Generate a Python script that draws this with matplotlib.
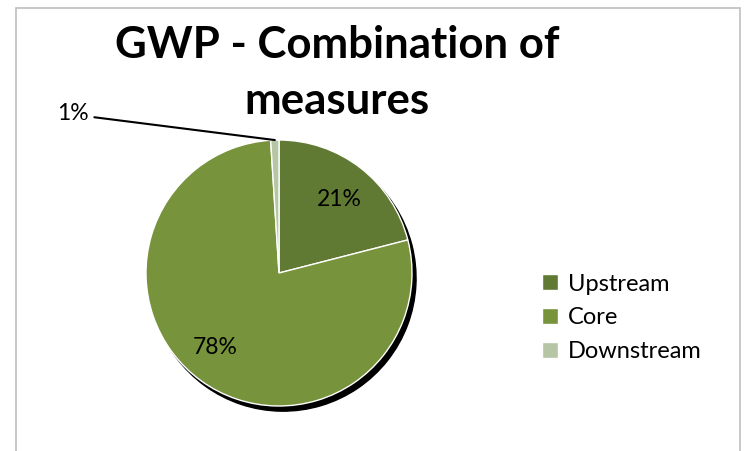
import numpy as np
import matplotlib
matplotlib.use("Agg")
import matplotlib.pyplot as plt
from matplotlib.patches import Rectangle

# 構成比データ
categories = ["Upstream", "Core", "Downstream"]
shares = [21, 78, 1]
share_labels = ["21%", "78%", "1%"]
colors = ["#617A33", "#77933C", "#B6C5A3"]

plt.rcParams["font.family"] = ["Lato", "DejaVu Sans"]

fig = plt.figure(figsize=(7.47, 4.51), dpi=100)
W, H = 747, 451

# チャート外枠
fig.patches.append(Rectangle((16 / W, -0.05), (740 - 16) / W, 1.05 - 8 / H,
                             transform=fig.transFigure, fill=False,
                             edgecolor="#BFBFBF", linewidth=1.2))

# 円グラフ（中心 279,273 / 半径 133 px）
cx, cy, r = 279, 273, 133
ax = fig.add_axes([(cx - r) / W, (H - cy - r) / H, 2 * r / W, 2 * r / H])
wedges, _ = ax.pie(shares, colors=colors, startangle=90, counterclock=False,
                   wedgeprops=dict(edgecolor="white", linewidth=1.0),
                   shadow=dict(ox=0.022, oy=-0.028, shade=1.0, alpha=1.0))
ax.set_xlim(-1, 1)
ax.set_ylim(-1, 1)
ax.set_aspect("equal")
ax.axis("off")

# ラベル
label_pos = [(0.45, 0.55), (-0.48, -0.56)]
for (x, y), txt in zip(label_pos, share_labels[:2]):
    ax.text(x, y, txt, ha="center", va="center", fontsize=16.5, color="black")

w = wedges[2]
mid = np.deg2rad((w.theta1 + w.theta2) / 2)
ax.annotate(share_labels[2], xy=(np.cos(mid), np.sin(mid)),
            xytext=(-1.43, 1.20), ha="right", va="center", fontsize=16.5,
            arrowprops=dict(arrowstyle="-", color="black", lw=1.5,
                            shrinkA=2, shrinkB=0, relpos=(1, 0.35)),
            annotation_clip=False)

# タイトル
fig.text(337 / W, 1 - 45 / H, "GWP - Combination of", ha="center", va="center",
         fontsize=31.5, fontweight="bold")
fig.text(337 / W, 1 - 101 / H, "measures", ha="center", va="center",
         fontsize=31.5, fontweight="bold")

# 凡例
fig.legend(wedges, categories, loc="center left",
           bbox_to_anchor=(521 / W, 1 - 318 / H), frameon=False,
           fontsize=17, handlelength=0.65, handleheight=0.65,
           handletextpad=0.45, labelspacing=0.55)

fig.savefig("out.png", dpi=100)
